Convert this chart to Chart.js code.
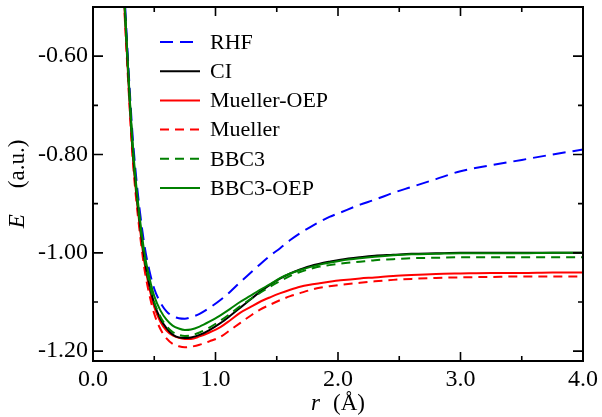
<!DOCTYPE html>
<html>
<head>
<meta charset="utf-8">
<script src="https://cdn.jsdelivr.net/npm/chart.js@4.4.0/dist/chart.umd.min.js"></script>
<style>
  html, body { margin: 0; padding: 0; background: #fff; }
</style>
</head>
<body>
<canvas id="curvas" width="602" height="417"></canvas>
<script>
// distancia r (Å) e energias E (a.u.)
const rValues = [0.24, 0.26, 0.28, 0.30, 0.32, 0.35, 0.38, 0.42, 0.46, 0.50,
  0.55, 0.60, 0.65, 0.70, 0.75, 0.80, 0.87, 0.95, 1.04, 1.12,
  1.20, 1.28, 1.36, 1.45, 1.53, 1.61, 1.69, 1.77, 1.85, 1.93,
  2.02, 2.18, 2.30, 2.45, 2.60, 2.80, 3.00, 3.25, 3.50, 3.75, 4.00];

const rhfE = [-0.38, -0.485, -0.58, -0.67, -0.75, -0.84, -0.91, -0.985, -1.036, -1.073,
  -1.101, -1.119, -1.129, -1.133, -1.134, -1.131, -1.124, -1.112, -1.096, -1.079,
  -1.060, -1.042, -1.024, -1.005, -0.990, -0.974, -0.960, -0.948, -0.937, -0.927,
  -0.918, -0.902, -0.892, -0.878, -0.866, -0.850, -0.834, -0.822, -0.811, -0.800, -0.790];

const ciE = [-0.40, -0.505, -0.60, -0.69, -0.775, -0.865, -0.935, -1.012, -1.065, -1.103,
  -1.134, -1.153, -1.166, -1.172, -1.173, -1.172, -1.167, -1.157, -1.143, -1.128,
  -1.112, -1.096, -1.080, -1.064, -1.052, -1.042, -1.034, -1.027, -1.022, -1.018,
  -1.014, -1.009, -1.006, -1.004, -1.002, -1.001, -1.000, -1.000, -1.000, -1.000, -1.000];

const muellerOepE = [-0.41, -0.515, -0.61, -0.70, -0.785, -0.873, -0.943, -1.020, -1.072, -1.110,
  -1.140, -1.158, -1.168, -1.173, -1.175, -1.175, -1.170, -1.162, -1.151, -1.137,
  -1.122, -1.111, -1.100, -1.090, -1.082, -1.075, -1.069, -1.065, -1.062, -1.059,
  -1.056, -1.052, -1.050, -1.047, -1.045, -1.043, -1.042, -1.041, -1.041, -1.040, -1.040];

const muellerE = [-0.42, -0.525, -0.62, -0.71, -0.795, -0.885, -0.955, -1.033, -1.085, -1.124,
  -1.155, -1.174, -1.185, -1.190, -1.192, -1.191, -1.187, -1.180, -1.171, -1.157,
  -1.143, -1.129, -1.116, -1.105, -1.096, -1.088, -1.082, -1.076, -1.071, -1.068,
  -1.065, -1.061, -1.058, -1.055, -1.053, -1.051, -1.050, -1.049, -1.048, -1.048, -1.048];

const bbc3E = [-0.40, -0.505, -0.60, -0.69, -0.775, -0.865, -0.935, -1.010, -1.062, -1.100,
  -1.130, -1.149, -1.161, -1.167, -1.169, -1.168, -1.162, -1.152, -1.138, -1.124,
  -1.109, -1.095, -1.082, -1.068, -1.057, -1.047, -1.039, -1.033, -1.028, -1.025,
  -1.022, -1.018, -1.015, -1.013, -1.011, -1.010, -1.009, -1.009, -1.009, -1.009, -1.009];

const bbc3OepE = [-0.40, -0.50, -0.595, -0.685, -0.765, -0.855, -0.925, -1.000, -1.050, -1.088,
  -1.117, -1.136, -1.148, -1.154, -1.157, -1.156, -1.150, -1.140, -1.127, -1.114,
  -1.100, -1.088, -1.076, -1.063, -1.051, -1.042, -1.035, -1.029, -1.024, -1.020,
  -1.016, -1.011, -1.008, -1.005, -1.003, -1.002, -1.001, -1.001, -1.001, -1.000, -1.000];

// ticks
const xMajorTicks = [0, 1, 2, 3, 4];
const xMinorTicks = [0.5, 1.5, 2.5, 3.5];
const yMajorTicks = [-1.2, -1.0, -0.8, -0.6];
const yMinorTicks = [-1.1, -0.9, -0.7];

const legendOrder = ['RHF', 'CI', 'Mueller-OEP', 'Mueller', 'BBC3', 'BBC3-OEP'];

const FONTE = "'Liberation Serif', 'DejaVu Serif', serif";
Chart.defaults.font.family = FONTE;
Chart.defaults.color = '#000';

function pontos(valores) {
  return rValues.map((r, i) => ({ x: r, y: valores[i] }));
}

function serie(label, valores, cor, dash, ordem) {
  return {
    label: label,
    data: pontos(valores),
    borderColor: cor,
    borderWidth: 2,
    borderDash: dash,
    pointRadius: 0,
    fill: false,
    cubicInterpolationMode: 'monotone',
    clip: 0,
    order: ordem
  };
}

// moldura, ticks para dentro, legenda e títulos dos eixos
const molduraPlugin = {
  id: 'moldura',
  afterDraw(chart) {
    const { ctx, chartArea: a, scales } = chart;
    const x = scales.x, y = scales.y;
    ctx.save();
    ctx.strokeStyle = '#000';
    ctx.lineWidth = 1.6;
    ctx.setLineDash([]);

    const tickX = (v, len) => {
      const px = x.getPixelForValue(v);
      ctx.beginPath();
      ctx.moveTo(px, a.bottom); ctx.lineTo(px, a.bottom - len);
      ctx.moveTo(px, a.top); ctx.lineTo(px, a.top + len);
      ctx.stroke();
    };
    const tickY = (v, len) => {
      const py = y.getPixelForValue(v);
      ctx.beginPath();
      ctx.moveTo(a.left, py); ctx.lineTo(a.left + len, py);
      ctx.moveTo(a.right, py); ctx.lineTo(a.right - len, py);
      ctx.stroke();
    };
    xMajorTicks.forEach(v => tickX(v, 9));
    xMinorTicks.forEach(v => tickX(v, 5));
    yMajorTicks.forEach(v => tickY(v, 10));
    yMinorTicks.forEach(v => tickY(v, 5));

    ctx.lineWidth = 2;
    ctx.strokeRect(a.left, a.top, a.right - a.left, a.bottom - a.top);

    // legenda
    ctx.font = '22px ' + FONTE;
    ctx.textBaseline = 'middle';
    ctx.textAlign = 'left';
    legendOrder.forEach((nome, i) => {
      const ds = chart.data.datasets.find(d => d.label === nome);
      const ly = 42 + i * 29.2;
      ctx.strokeStyle = ds.borderColor;
      ctx.lineWidth = 2;
      ctx.setLineDash(ds.borderDash || []);
      ctx.beginPath();
      ctx.moveTo(160, ly); ctx.lineTo(200, ly);
      ctx.stroke();
      ctx.setLineDash([]);
      ctx.fillStyle = '#000';
      ctx.fillText(nome, 210, ly + 1);
    });

    // título eixo x: r  (Å)
    const cx = (a.left + a.right) / 2;
    ctx.font = 'italic 23px ' + FONTE;
    const wr = ctx.measureText('r').width;
    ctx.font = '23px ' + FONTE;
    const wa = ctx.measureText('(Å)').width;
    const gapX = 13;
    let sx = cx - (wr + gapX + wa) / 2;
    ctx.font = 'italic 23px ' + FONTE;
    ctx.fillText('r', sx, 404);
    ctx.font = '23px ' + FONTE;
    ctx.fillText('(Å)', sx + wr + gapX, 404);

    // título eixo y: E  (a.u.)
    const cy = (a.top + a.bottom) / 2;
    ctx.translate(18, cy);
    ctx.rotate(-Math.PI / 2);
    ctx.font = 'italic 23px ' + FONTE;
    const we = ctx.measureText('E').width;
    ctx.font = '23px ' + FONTE;
    const wu = ctx.measureText('(a.u.)').width;
    const gapY = 26;
    sx = -(we + gapY + wu) / 2;
    ctx.font = 'italic 23px ' + FONTE;
    ctx.fillText('E', sx, 0);
    ctx.font = '23px ' + FONTE;
    ctx.fillText('(a.u.)', sx + we + gapY, 0);
    ctx.restore();
  }
};

new Chart(document.getElementById('curvas'), {
  type: 'line',
  data: {
    datasets: [
      serie('RHF', rhfE, '#0000ff', [13, 7], 6),
      serie('CI', ciE, '#000000', [], 3),
      serie('Mueller-OEP', muellerOepE, '#ff0000', [], 4),
      serie('Mueller', muellerE, '#ff0000', [9, 6], 5),
      serie('BBC3', bbc3E, '#008000', [9, 6], 2),
      serie('BBC3-OEP', bbc3OepE, '#008000', [], 1)
    ]
  },
  options: {
    responsive: false,
    animation: false,
    layout: { padding: { top: 7, right: 19, left: 0, bottom: 0 } },
    plugins: { legend: { display: false }, tooltip: { enabled: false } },
    scales: {
      x: {
        type: 'linear',
        min: 0, max: 4,
        grid: { display: false, drawTicks: false },
        border: { display: false },
        afterBuildTicks: s => { s.ticks = xMajorTicks.map(v => ({ value: v })); },
        afterFit: s => { s.height = 56; s.paddingLeft = 0; s.paddingRight = 0; },
        ticks: { padding: 4, font: { size: 24 }, maxRotation: 0, callback: v => v.toFixed(1) }
      },
      y: {
        type: 'linear',
        min: -1.22, max: -0.5,
        grid: { display: false, drawTicks: false },
        border: { display: false },
        afterBuildTicks: s => { s.ticks = yMajorTicks.map(v => ({ value: v })); },
        afterFit: s => { s.width = 93; s.paddingTop = 0; s.paddingBottom = 0; },
        ticks: { padding: 5, font: { size: 24 }, callback: v => v.toFixed(2) }
      }
    }
  },
  plugins: [molduraPlugin]
});
</script>
</body>
</html>
